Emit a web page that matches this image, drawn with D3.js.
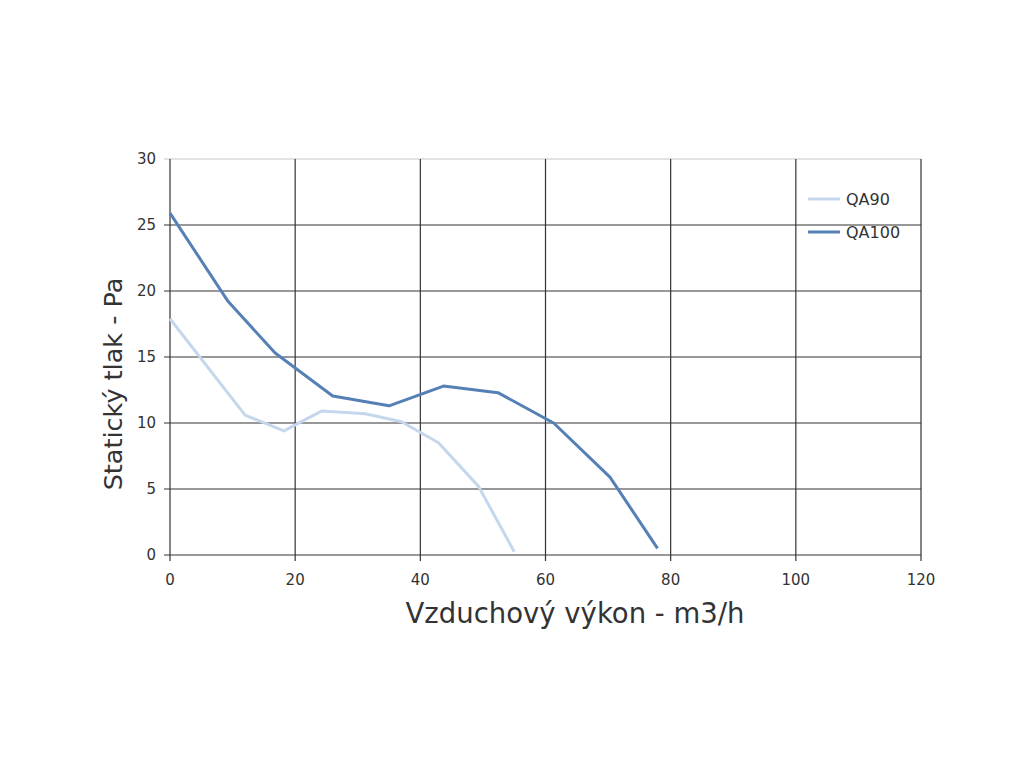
<!DOCTYPE html>
<html>
<head>
<meta charset="utf-8">
<script src="https://cdn.jsdelivr.net/npm/d3@7"></script>
<style>
  body { margin: 0; background: #fff; }
  text { font-family: "DejaVu Sans", sans-serif; }
</style>
</head>
<body>
<svg id="chart" width="1024" height="768"></svg>
<script>
const xTicks = [0, 20, 40, 60, 80, 100, 120];
const yTicks = [0, 5, 10, 15, 20, 25, 30];

const seriesNames = ['QA90', 'QA100'];
const qa90 = [
  [0, 17.9], [12.0, 10.6], [18.2, 9.4], [24.2, 10.9], [31.2, 10.7],
  [37.0, 10.1], [42.9, 8.5], [49.3, 5.2], [55.0, 0.25]
];
const qa100 = [
  [0, 25.9], [9.3, 19.2], [16.8, 15.3], [26.0, 12.05], [35.0, 11.3],
  [43.7, 12.8], [52.4, 12.3], [61.3, 10.0], [70.3, 5.9], [77.9, 0.5]
];
const colors = ['#c5d7ec', '#5580b5'];

const margin = { top: 159, right: 103, bottom: 213, left: 170 };
const w = 1024 - margin.left - margin.right;
const h = 768 - margin.top - margin.bottom;

const svg = d3.select('#chart');
const g = svg.append('g')
  .attr('transform', `translate(${margin.left},${margin.top})`);

const x = d3.scaleLinear().domain([0, 120]).range([0, w]);
const y = d3.scaleLinear().domain([0, 30]).range([h, 0]);

// grid
g.append('g')
  .selectAll('line')
  .data(yTicks)
  .enter()
  .append('line')
  .attr('x1', -6).attr('x2', w)
  .attr('y1', d => y(d)).attr('y2', d => y(d))
  .attr('stroke', d => d === 30 ? '#c8c8c8' : '#333')
  .attr('stroke-width', 1.2);

g.append('g')
  .selectAll('line')
  .data(xTicks)
  .enter()
  .append('line')
  .attr('x1', d => x(d)).attr('x2', d => x(d))
  .attr('y1', 0).attr('y2', h + 6)
  .attr('stroke', '#333')
  .attr('stroke-width', 1.2);

// tick labels
g.append('g')
  .selectAll('text')
  .data(yTicks)
  .enter()
  .append('text')
  .attr('x', -14)
  .attr('y', d => y(d))
  .attr('dy', '0.35em')
  .attr('text-anchor', 'end')
  .attr('font-size', 15)
  .attr('fill', '#333')
  .text(d => d);

g.append('g')
  .selectAll('text')
  .data(xTicks)
  .enter()
  .append('text')
  .attr('x', d => x(d))
  .attr('y', h + 30)
  .attr('text-anchor', 'middle')
  .attr('font-size', 15)
  .attr('fill', '#333')
  .text(d => d);

// axis titles
svg.append('text')
  .attr('x', 575).attr('y', 623)
  .attr('text-anchor', 'middle')
  .attr('font-size', 27.5)
  .attr('fill', '#333')
  .text('Vzduchový výkon - m3/h');

svg.append('text')
  .attr('transform', 'translate(122,384) rotate(-90)')
  .attr('text-anchor', 'middle')
  .attr('font-size', 25.5)
  .attr('fill', '#333')
  .text('Statický tlak - Pa');

// lines
const line = d3.line().x(d => x(d[0])).y(d => y(d[1]));
[qa90, qa100].forEach((s, i) => {
  g.append('path')
    .datum(s)
    .attr('d', line)
    .attr('fill', 'none')
    .attr('stroke', colors[i])
    .attr('stroke-width', 3)
    .attr('stroke-linejoin', 'round');
});

// legend
const legend = svg.append('g').attr('transform', 'translate(808,199)');
seriesNames.forEach((name, i) => {
  const row = legend.append('g').attr('transform', `translate(0,${i * 33})`);
  row.append('line')
    .attr('x1', 0).attr('x2', 32)
    .attr('stroke', colors[i])
    .attr('stroke-width', 3);
  row.append('text')
    .attr('x', 38).attr('y', 0)
    .attr('dy', '0.35em')
    .attr('font-size', 16)
    .attr('fill', '#333')
    .text(name);
});
</script>
</body>
</html>
